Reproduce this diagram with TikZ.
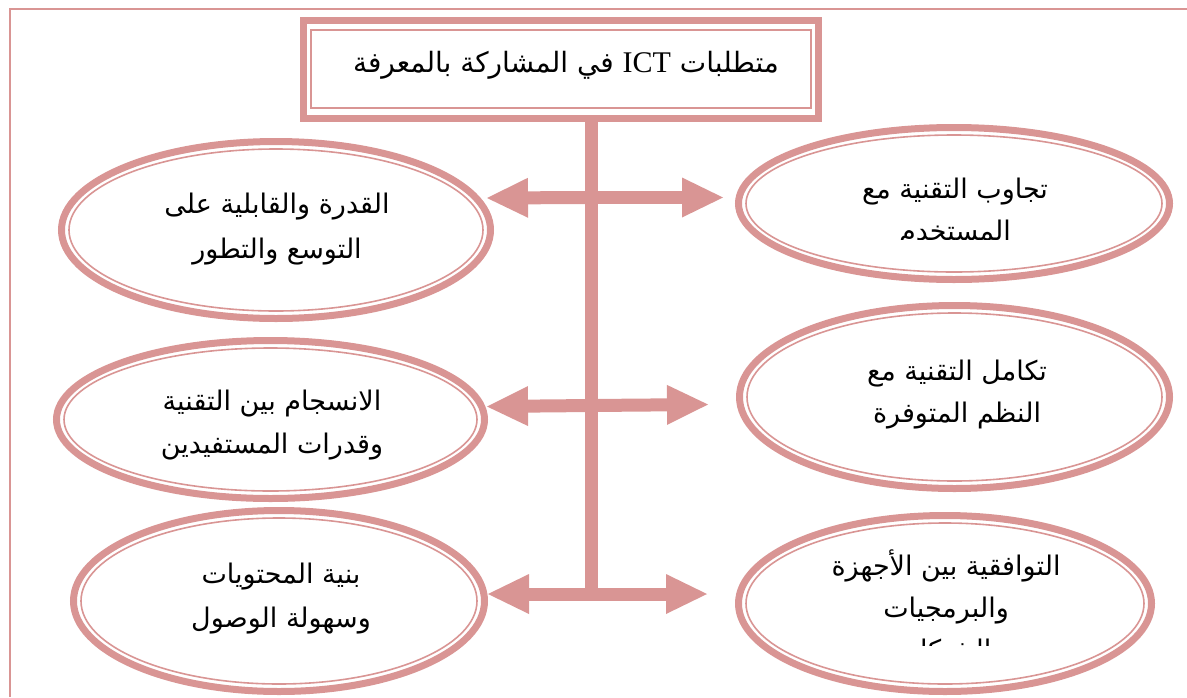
\documentclass[tikz,border=0pt]{standalone}
\usepackage{fontspec}
\usetikzlibrary{shapes.geometric,arrows.meta}
\TeXXeTstate=1
\newfontfamily\arabicfont[Script=Arabic]{DejaVu Sans}
\newfontfamily\latinserif{Liberation Serif}
\definecolor{rose}{HTML}{D99594}
\tikzset{
  frameline/.style={draw=rose, line width=2pt},
  titlebox/.style={rectangle, draw=rose, line width=7pt, outer sep=0pt, inner sep=0pt},
  innerline/.style={draw=rose, line width=1.6pt},
  oval/.style={ellipse, draw=rose, line width=7pt, outer sep=0pt, inner sep=0pt},
  trunkline/.style={draw=rose, line width=13pt},
  blockarrow/.style={draw=rose, line width=13pt,
    -{Triangle[length=41pt,width=40pt,line width=0pt]}},
  ovaltext/.style={font=\arabicfont\fontsize{27}{32}\selectfont, anchor=base, inner sep=0pt},
  titletext/.style={font=\arabicfont\fontsize{28}{34}\selectfont, anchor=base, inner sep=0pt},
}
% outer thick ellipse plus thin inner ellipse: name, cx, cy, rx, ry (outer edge)
\newcommand\twinoval[5]{%
  \node[oval, minimum width={2*#4-7}, minimum height={2*#5-7}] (#1) at (#2,#3) {};
  \draw[innerline] (#1.center) ellipse [x radius={#4-11}, y radius={#5-11}];
}
\begin{document}
\begin{tikzpicture}[x=1pt, y=-1pt]
\useasboundingbox (0,0) rectangle (1187,697);

% page frame
\coordinate (fbl) at (10,697);
\coordinate (ftl) at (10,9);
\coordinate (ftr) at (1187,9);
\draw[frameline] (fbl) -- (ftl) -- (ftr);

% title box
\node[titlebox, minimum width=515, minimum height=98.5] (title) at (561,69.25) {};
\draw[innerline] ([xshift=7.5pt,yshift=-10pt]title.north west) rectangle ([xshift=-7.5pt,yshift=10.5pt]title.south east);
\node[titletext] (titletxt) at (566,72)
  {\beginR متطلبات \beginL{\latinserif\fontsize{30}{34}\selectfont ICT}\endL{} في المشاركة بالمعرفة\endR};

% ellipses
\twinoval{L1}{276}{230}{218}{92}
\twinoval{L2}{270.5}{419.5}{217.5}{82.5}
\twinoval{L3}{279}{601}{209}{94}
\twinoval{R1}{954}{203.5}{219}{79.5}
\twinoval{R2}{954.5}{397}{218.5}{95}
\twinoval{R3}{945}{603.5}{210}{91.5}

% trunk and branches
\coordinate (top) at ([xshift=30.5pt]title.south);
\coordinate (b1) at (591.5,197.5);
\coordinate (b2) at (591.5,405.5);
\coordinate (b3) at (591.5,594);
\coordinate (bottom) at (591.5,601);
\draw[trunkline] (top) -- (bottom);
\coordinate (tl1) at (487,198);
\coordinate (tr1) at (723,197.5);
\coordinate (tl2) at (487,406.5);
\coordinate (tr2) at (708,404.5);
\coordinate (tl3) at (488,594);
\coordinate (tr3) at (707,594);
\draw[blockarrow] (b1) -- (tl1);
\draw[blockarrow] (b1) -- (tr1);
\draw[blockarrow] (b2) -- (tl2);
\draw[blockarrow] (b2) -- (tr2);
\draw[blockarrow] (b3) -- (tl3);
\draw[blockarrow] (b3) -- (tr3);

% texts
\node[ovaltext] (l1a) at (277,213) {\beginR القدرة والقابلية على\endR};
\node[ovaltext] (l1b) at (277,258) {\beginR التوسع والتطور\endR};
\node[ovaltext] (l2a) at (272,410) {\beginR الانسجام بين التقنية\endR};
\node[ovaltext] (l2b) at (272,453) {\beginR وقدرات المستفيدين\endR};
\node[ovaltext] (l3a) at (281,583) {\beginR بنية المحتويات\endR};
\node[ovaltext] (l3b) at (281,627) {\beginR وسهولة الوصول\endR};

\node[ovaltext] (r1a) at (955,198) {\beginR تجاوب التقنية مع\endR};
\begin{scope}
  \clip (830,212) rectangle (1080,239);
  \node[ovaltext] (r1b) at (955,240) {\beginR المستخدم\endR};
\end{scope}
\node[ovaltext] (r2a) at (957,380) {\beginR تكامل التقنية مع\endR};
\node[ovaltext] (r2b) at (957,422) {\beginR النظم المتوفرة\endR};
\node[ovaltext] (r3a) at (946,575) {\beginR التوافقية بين الأجهزة\endR};
\node[ovaltext] (r3b) at (946,617) {\beginR والبرمجيات\endR};
\begin{scope}
  \clip (830,630) rectangle (1080,645);
  \node[ovaltext] (r3c) at (943,659) {\beginR الشبكات\endR};
\end{scope}
\end{tikzpicture}
\end{document}
